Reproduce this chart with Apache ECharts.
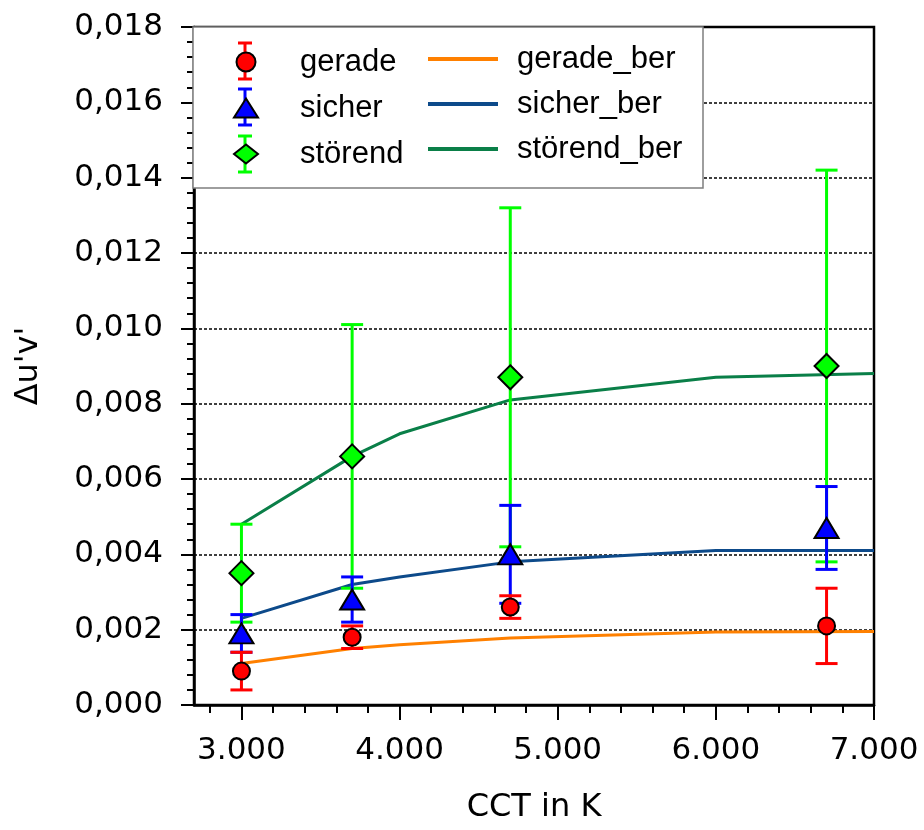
<!DOCTYPE html>
<html>
<head>
<meta charset="utf-8">
<script src="https://cdn.jsdelivr.net/npm/echarts@6/dist/echarts.min.js"></script>
<style>
  html, body { margin: 0; padding: 0; background: #fff; }
  #chart { width: 924px; height: 830px; }
</style>
</head>
<body>
<div id="chart"></div>
<script>
// Messwerte (Mittelwert und halbe Fehlerbalkenlänge)
const cctMess = [3000, 3700, 4700, 6700];
const gerade = [0.0009, 0.0018, 0.0026, 0.0021];
const geradeErr = [0.0005, 0.0003, 0.0003, 0.0010];
const sicher = [0.0019, 0.0028, 0.0040, 0.0047];
const sicherErr = [0.0005, 0.0006, 0.0013, 0.0011];
const stoerend = [0.0035, 0.0066, 0.0087, 0.0090];
const stoerendErr = [0.0013, 0.0035, 0.0045, 0.0052];

// berechnete Kurven
const cctBer = [3000, 3700, 4000, 4700, 6000, 7000];
const geradeBer = [0.0011, 0.0015, 0.0016, 0.00178, 0.00194, 0.00195];
const sicherBer = [0.0023, 0.0032, 0.0034, 0.0038, 0.0041, 0.0041];
const stoerendBer = [0.0048, 0.0066, 0.0072, 0.0081, 0.0087, 0.0088];

// Achsenbeschriftung
const xTicks = [3000, 4000, 5000, 6000, 7000];
const xMinorTicks = [2800, 3200, 3400, 3600, 3800, 4200, 4400, 4600, 4800,
  5200, 5400, 5600, 5800, 6200, 6400, 6600, 6800];

const chart = echarts.init(document.getElementById('chart'));

function pairs(xs, ys) {
  return xs.map((x, i) => [x, ys[i]]);
}

function errData(ys, errs) {
  return cctMess.map((x, i) => [x, ys[i] - errs[i], ys[i] + errs[i]]);
}

// Fehlerbalken als custom series
function errorSeries(name, color, ys, errs) {
  return {
    name: name + '_err',
    type: 'custom',
    data: errData(ys, errs),
    z: 3,
    renderItem: function (params, api) {
      const lo = api.coord([api.value(0), api.value(1)]);
      const hi = api.coord([api.value(0), api.value(2)]);
      const w = 11;
      const style = { stroke: color, lineWidth: 3 };
      return {
        type: 'group',
        children: [
          { type: 'line', shape: { x1: lo[0], y1: lo[1], x2: hi[0], y2: hi[1] }, style: style },
          { type: 'line', shape: { x1: lo[0] - w, y1: lo[1], x2: lo[0] + w, y2: lo[1] }, style: style },
          { type: 'line', shape: { x1: hi[0] - w, y1: hi[1], x2: hi[0] + w, y2: hi[1] }, style: style }
        ]
      };
    }
  };
}

function markerSeries(name, color, symbol, size, ys) {
  return {
    name: name,
    type: 'scatter',
    data: pairs(cctMess, ys),
    symbol: symbol,
    symbolSize: size,
    z: 5,
    itemStyle: { color: color, borderColor: '#000', borderWidth: 2, opacity: 1 }
  };
}

function lineSeries(name, color, ys) {
  return {
    name: name,
    type: 'line',
    data: pairs(cctBer, ys),
    showSymbol: false,
    symbol: 'none',
    z: 2,
    lineStyle: { color: color, width: 3 },
    itemStyle: { color: color }
  };
}

// kleine Fehlerbalken in der Legende
function legendBar(cx, y1, y2, color) {
  const s = { stroke: color, lineWidth: 3 };
  return [
    { type: 'line', z: 11, shape: { x1: cx, y1: y1, x2: cx, y2: y2 }, style: s },
    { type: 'line', z: 11, shape: { x1: cx - 7, y1: y1, x2: cx + 7, y2: y1 }, style: s },
    { type: 'line', z: 11, shape: { x1: cx - 7, y1: y2, x2: cx + 7, y2: y2 }, style: s }
  ];
}

const tickFont = { fontFamily: 'DejaVu Sans', fontSize: 31, color: '#000' };

chart.setOption({
  animation: false,
  backgroundColor: '#fff',
  grid: {
    left: 194, right: 50, top: 27, bottom: 125,
    show: true, borderColor: '#000', borderWidth: 2.5
  },
  xAxis: [{
    type: 'value',
    min: 2700,
    max: 7000,
    name: 'CCT in K',
    nameLocation: 'middle',
    nameGap: 87,
    nameTextStyle: { fontFamily: 'DejaVu Sans', fontSize: 32, color: '#000' },
    axisLine: { show: true, lineStyle: { color: '#000', width: 2.5 } },
    axisTick: { show: true, customValues: xTicks, length: 15, lineStyle: { color: '#000', width: 2 } },
    axisLabel: Object.assign({
      customValues: xTicks,
      margin: 30,
      formatter: v => (v / 1000).toFixed(3)
    }, tickFont),
    splitLine: { show: false }
  }, {
    type: 'value',
    min: 2700,
    max: 7000,
    position: 'bottom',
    axisLine: { show: false },
    axisTick: { show: true, customValues: xMinorTicks, length: 8, lineStyle: { color: '#000', width: 2 } },
    axisLabel: { show: false },
    splitLine: { show: false }
  }],
  yAxis: {
    type: 'value',
    min: 0,
    max: 0.018,
    interval: 0.002,
    name: "\u0394u'v'",
    nameLocation: 'middle',
    nameGap: 149,
    nameTextStyle: { fontFamily: 'DejaVu Sans', fontSize: 32, color: '#000' },
    axisLine: { show: true, lineStyle: { color: '#000', width: 2.5 } },
    axisTick: { show: true, length: 13, lineStyle: { color: '#000', width: 2 } },
    minorTick: { show: true, splitNumber: 5, length: 7, lineStyle: { color: '#000', width: 2 } },
    axisLabel: Object.assign({
      margin: 31,
      formatter: v => v.toFixed(3).replace('.', ',')
    }, tickFont),
    splitLine: { show: true, lineStyle: { color: '#000', width: 1.5, type: [3, 2] } }
  },
  legend: [{
    data: [
      { name: 'gerade', icon: 'circle' },
      { name: 'sicher', icon: 'triangle' },
      { name: 'störend', icon: 'diamond' }
    ],
    orient: 'vertical',
    left: 233,
    top: 46,
    padding: 0,
    itemWidth: 24,
    itemHeight: 19,
    itemGap: 14,
    z: 12,
    textStyle: { fontFamily: 'Liberation Sans', fontSize: 31, lineHeight: 32, color: '#000', padding: [0, 0, 0, 37] }
  }, {
    data: [
      { name: 'gerade_ber', icon: 'rect' },
      { name: 'sicher_ber', icon: 'rect' },
      { name: 'störend_ber', icon: 'rect' }
    ],
    orient: 'vertical',
    left: 428,
    top: 43,
    padding: 0,
    itemWidth: 70,
    itemHeight: 4,
    itemGap: 13,
    z: 12,
    textStyle: { fontFamily: 'Liberation Sans', fontSize: 31, lineHeight: 32, color: '#000', padding: [0, 0, 0, 14] }
  }],
  graphic: [
    {
      type: 'rect', z: 10,
      shape: { x: 193, y: 27, width: 510, height: 161 },
      style: { fill: '#fff', stroke: '#7f7f7f', lineWidth: 1.5 }
    }
  ].concat(
    legendBar(245, 43, 79, '#ff0000'),
    legendBar(245, 89, 125, '#0000ff'),
    legendBar(245, 136, 172, '#00ff00')
  ),
  series: [
    lineSeries('gerade_ber', '#ff8000', geradeBer),
    lineSeries('sicher_ber', '#0d4a8a', sicherBer),
    lineSeries('störend_ber', '#0a7f48', stoerendBer),
    errorSeries('störend', '#00ff00', stoerend, stoerendErr),
    errorSeries('sicher', '#0000ff', sicher, sicherErr),
    errorSeries('gerade', '#ff0000', gerade, geradeErr),
    markerSeries('störend', '#00ff00', 'diamond', 24, stoerend),
    markerSeries('sicher', '#0000ff', 'triangle', [24, 20], sicher),
    markerSeries('gerade', '#ff0000', 'circle', 17, gerade)
  ]
});

window.addEventListener('resize', function () {
  chart.resize();
});
</script>
</body>
</html>
